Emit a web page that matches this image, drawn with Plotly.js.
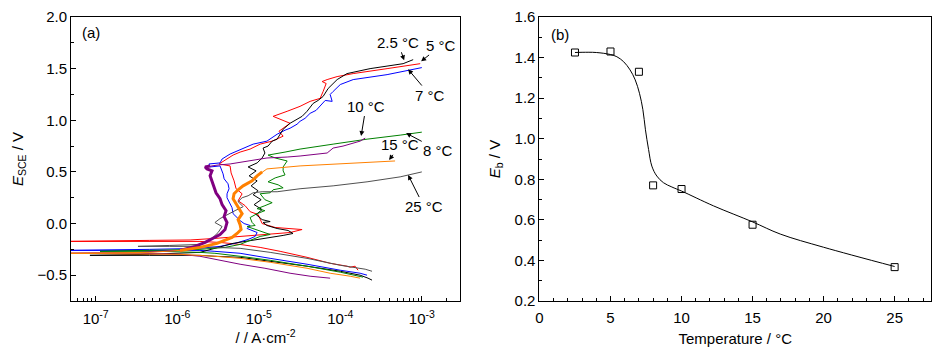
<!DOCTYPE html>
<html>
<head>
<meta charset="utf-8">
<script src="https://cdn.plot.ly/plotly-3.0.1.min.js"></script>
<style>html,body{margin:0;padding:0;background:#fff;}#chart{width:945px;height:360px;}</style>
</head>
<body>
<div id="chart"></div>
<script>
// ---------- Panel (a): polarization curves (current density A/cm^2, potential V vs SCE) ----------
const i_2p5C = [2.45e-4,2.19e-4,1.75e-4,1.0e-4,3.91e-5,1.38e-5,5.9e-6,2.9e-6,1.9e-6,4.6e-7,8.5e-8,
  4.6e-7,1.9e-6,4.84e-6,1.26e-5,1.99e-5,2.63e-5,2.29e-5,1.68e-5,1.26e-5,1.13e-5,1.38e-5,1.1e-5,9.28e-6,1.1e-5,8.77e-6,1.07e-5,8.53e-6,9.82e-6,8.06e-6,9.55e-6,7.62e-6,9.28e-6,7.4e-6,9.55e-6,1.1e-5,1.19e-5,1.13e-5,1.3e-5,1.46e-5,1.68e-5,1.99e-5,2.42e-5,2.95e-5,3.4e-5,3.91e-5,4.64e-5,5.34e-5,6.16e-5,7.1e-5,7.51e-5,9.15e-5,1.21e-4,2.32e-4,5.9e-4,7.83e-4];
const E_2p5C = [-0.548,-0.529,-0.5,-0.462,-0.413,-0.365,-0.327,-0.317,-0.308,-0.308,-0.308,
  -0.298,-0.279,-0.192,-0.144,-0.115,-0.096,-0.067,-0.048,-0.019,0.01,0.019,0.038,0.087,0.135,0.183,0.231,0.279,0.317,0.365,0.413,0.462,0.51,0.548,0.587,0.635,0.683,0.731,0.75,0.798,0.817,0.913,0.971,1.01,1.038,1.087,1.163,1.192,1.231,1.308,1.327,1.394,1.452,1.5,1.548,1.587];

const i_5C = [1.65e-4,1.52e-4,1.32e-4,1.21e-4,7.51e-5,3.91e-5,1.83e-5,1.04e-5,5.9e-6,3.35e-6,1.9e-6,6.1e-7,2.0e-7,4e-8,
  4.6e-7,1.44e-6,2.9e-6,5.9e-6,1.38e-5,2.42e-5,3.4e-5,2.42e-5,1.59e-5,1.1e-5,9.82e-6,7.83e-6,6.8e-6,5.58e-6,6.25e-6,5.27e-6,4.98e-6,4.58e-6,4.45e-6,3.26e-6,4.84e-6,5.9e-6,7.83e-6,1.04e-5,1.46e-5,1.99e-5,1.77e-5,2.42e-5,1.83e-5,1.5e-5,2.23e-5,3.21e-5,4.26e-5,5.66e-5,6.16e-5,6.71e-5,5.99e-5,6.9e-5,9.15e-5,1.44e-4,3.75e-4,9.55e-4];
const E_5C = [-0.452,-0.413,-0.423,-0.413,-0.385,-0.327,-0.269,-0.231,-0.202,-0.183,-0.173,-0.173,-0.173,-0.173,
  -0.163,-0.159,-0.144,-0.125,-0.106,-0.087,-0.058,-0.048,-0.038,0.0,0.087,0.115,0.173,0.221,0.288,0.337,0.413,0.49,0.558,0.577,0.663,0.692,0.721,0.769,0.798,0.846,0.894,0.971,1.01,1.038,1.087,1.135,1.183,1.212,1.279,1.356,1.375,1.394,1.423,1.452,1.5,1.548];

const i_7C = [2.13e-4,1.75e-4,1.0e-4,3.91e-5,1.38e-5,5.9e-6,2.9e-6,1.9e-6,4.6e-7,4e-8,
  4.6e-7,1.9e-6,3.35e-6,5.12e-6,7.4e-6,9.02e-6,9.55e-6,7.2e-6,7.83e-6,6.61e-6,5.9e-6,5.27e-6,4.84e-6,4.7e-6,4.45e-6,4.08e-6,4.08e-6,4.32e-6,4.2e-6,3.76e-6,3.65e-6,3.45e-6,3.35e-6,2.53e-6,2.45e-6,3.35e-6,3.55e-6,4.45e-6,5.42e-6,8.53e-6,1.26e-5,1.68e-5,2.1e-5,2.42e-5,2.95e-5,3.21e-5,3.7e-5,4.26e-5,5.05e-5,5.66e-5,6.53e-5,7.95e-5,7.51e-5,8.17e-5,1.0e-4,1.44e-4,3.75e-4,1.0e-3];
const E_7C = [-0.5,-0.481,-0.452,-0.394,-0.337,-0.288,-0.269,-0.26,-0.26,-0.26,
  -0.25,-0.24,-0.221,-0.192,-0.154,-0.125,-0.087,-0.048,-0.019,0.0,0.029,0.067,0.096,0.154,0.192,0.25,0.288,0.337,0.385,0.433,0.481,0.529,0.558,0.548,0.577,0.587,0.625,0.673,0.702,0.769,0.798,0.865,0.904,0.923,0.962,0.99,1.019,1.067,1.096,1.135,1.192,1.183,1.25,1.279,1.346,1.394,1.442,1.51];

const i_8C = [1.9e-4,1.52e-4,1.0e-4,3.91e-5,1.38e-5,5.9e-6,2.9e-6,1.9e-6,6.1e-7,1.13e-7,
  6.1e-7,1.9e-6,3.86e-6,5.9e-6,7.83e-6,1.04e-5,1.38e-5,1.1e-5,9.02e-6,7.2e-6,9.02e-6,8.29e-6,7.83e-6,9.55e-6,1.19e-5,9.55e-6,1.19e-5,1.46e-5,1.19e-5,1.1e-5,1.04e-5,1.38e-5,1.5e-5,1.99e-5,1.73e-5,1.3e-5,1.59e-5,2.1e-5,1.99e-5,1.99e-5,2.23e-5,1.59e-5,1.3e-5,2.1e-5,3.21e-5,8.17e-5,2.13e-4,5.42e-4,1.0e-3];
const E_8C = [-0.519,-0.5,-0.471,-0.413,-0.356,-0.317,-0.288,-0.279,-0.269,-0.269,
  -0.26,-0.25,-0.231,-0.202,-0.163,-0.125,-0.106,-0.077,-0.058,-0.029,-0.019,0.01,0.058,0.096,0.125,0.144,0.173,0.202,0.231,0.26,0.288,0.298,0.327,0.346,0.375,0.404,0.442,0.471,0.51,0.548,0.606,0.635,0.663,0.692,0.721,0.769,0.817,0.856,0.885];

const i_10C = [7.51e-5,4.26e-5,2.42e-5,1.19e-5,5.9e-6,2.9e-6,1.9e-6,1.08e-6,3.5e-7,4e-8,
  3.5e-7,1.08e-6,1.65e-6,2.2e-6,2.75e-6,3.35e-6,3.86e-6,4.08e-6,3.76e-6,3.97e-6,3.55e-6,3.35e-6,2.99e-6,2.83e-6,2.67e-6,2.53e-6,2.67e-6,2.32e-6,2.2e-6,2.53e-6,3.17e-6,4.45e-6,7.2e-6,1.26e-5,2.23e-5,3.21e-5,6.9e-5,8.17e-5,1.08e-4,1.32e-4,1.75e-4,2.02e-4];
const E_10C = [-0.529,-0.51,-0.481,-0.433,-0.394,-0.346,-0.317,-0.298,-0.288,-0.288,
  -0.279,-0.26,-0.221,-0.183,-0.144,-0.106,-0.058,0.01,0.067,0.125,0.183,0.24,0.298,0.356,0.413,0.462,0.51,0.529,0.548,0.558,0.567,0.577,0.606,0.635,0.644,0.654,0.683,0.731,0.75,0.769,0.798,0.827];

const i_15C = [1.75e-4,1.32e-4,7.51e-5,3.91e-5,1.38e-5,5.9e-6,2.9e-6,1.9e-6,1.08e-6,4e-8,
  4.6e-7,1.08e-6,1.9e-6,3.08e-6,3.86e-6,4.7e-6,5.42e-6,6.07e-6,5.9e-6,5.58e-6,6.25e-6,5.74e-6,5.27e-6,4.84e-6,4.98e-6,5.58e-6,6.43e-6,8.29e-6,9.55e-6,1.1e-5,1.26e-5,3.21e-5,1.0e-4,4.7e-4];
const E_15C = [-0.529,-0.51,-0.481,-0.433,-0.375,-0.337,-0.317,-0.308,-0.298,-0.288,
  -0.279,-0.26,-0.231,-0.192,-0.163,-0.135,-0.096,-0.058,-0.01,0.038,0.096,0.144,0.192,0.24,0.288,0.327,0.365,0.413,0.462,0.5,0.529,0.558,0.577,0.606];

const i_25C = [2.45e-4,2.02e-4,1.0e-4,3.91e-5,1.38e-5,5.9e-6,2.9e-6,1.9e-6,8.1e-7,3.3e-7,
  8.1e-7,1.9e-6,2.67e-6,3.17e-6,3.55e-6,2.9e-6,3.35e-6,4.08e-6,5.12e-6,6.43e-6,5.58e-6,6.25e-6,7.4e-6,8.53e-6,1.1e-5,1.68e-5,3.21e-5,8.17e-5,2.13e-4,5.42e-4,1.0e-3];
const E_25C = [-0.462,-0.442,-0.404,-0.337,-0.279,-0.24,-0.231,-0.221,-0.221,-0.221,
  -0.212,-0.202,-0.144,-0.087,-0.029,0.01,0.048,0.087,0.125,0.163,0.212,0.25,0.269,0.298,0.308,0.308,0.337,0.365,0.404,0.452,0.5];

const curveLabels = ['2.5 °C','5 °C','7 °C','8 °C','10 °C','15 °C','25 °C'];
const xTickVals = [1e-7,1e-6,1e-5,1e-4,1e-3];
const xTickText = ['10<sup>-7</sup>','10<sup>-6</sup>','10<sup>-5</sup>','10<sup>-4</sup>','10<sup>-3</sup>'];

// ---------- Panel (b): breakdown potential vs temperature ----------
const temperature = [2.5, 5, 7, 8, 10, 15, 25];
const Eb = [1.425, 1.43, 1.33, 0.77, 0.752, 0.576, 0.367];
const fitT = [2.5, 3, 4, 5, 5.45, 5.92, 6.38, 6.74, 7.04, 7.28, 7.46, 7.68, 7.91, 8.26, 8.73, 9.32, 10, 12.25, 15, 16.95, 20, 25];
const fitE = [1.425, 1.426, 1.425, 1.415, 1.404, 1.38, 1.339, 1.29, 1.224, 1.143, 1.044, 0.947, 0.865, 0.816, 0.783, 0.762, 0.742, 0.669, 0.59, 0.53, 0.465, 0.37];

// ---------- build ----------
const L = 71, R = 14.3, T = 16.5, B = 58.5;
const PW = 945 - L - R, PH = 360 - T - B;
const pxX = x => (x - L) / PW;
const pxY = y => (T + PH - y) / PH;

const FONT = '"Liberation Sans", Arial, Helvetica, sans-serif';
function tr(x, y, color, name, w) {
  return {type:'scatter', mode:'lines', x:x, y:y, name:name, xaxis:'x', yaxis:'y',
          line:{color:color, width:w||1}, hoverinfo:'skip'};
}
const bandPurple = tr(i_10C.slice(11, 30), E_10C.slice(11, 30), '#800080', '10 °C band', 3);
const bandOrange = tr(i_15C.slice(11, 30), E_15C.slice(11, 30), '#ff8000', '15 °C band', 3);
const traces = [
  tr(i_5C, E_5C, '#ff0000', curveLabels[1]),
  tr(i_7C, E_7C, '#0000ff', curveLabels[2]),
  tr(i_2p5C, E_2p5C, '#000000', curveLabels[0]),
  tr(i_8C, E_8C, '#008000', curveLabels[3]),
  tr(i_25C, E_25C, '#505050', curveLabels[6]),
  tr(i_10C, E_10C, '#800080', curveLabels[4]),
  bandPurple,
  tr(i_15C, E_15C, '#ff8000', curveLabels[5]),
  bandOrange,
  {type:'scatter', mode:'lines', x:fitT, y:fitE, xaxis:'x2', yaxis:'y2', line:{color:'#000', width:1, shape:'spline', smoothing:1}, name:'fit', hoverinfo:'skip'},
  {type:'scatter', mode:'markers', x:temperature, y:Eb, xaxis:'x2', yaxis:'y2', name:'Eb',
   marker:{symbol:'square-open', size:7, color:'#000', line:{width:1, color:'#000'}}, hoverinfo:'skip'}
];

// minor log ticks
const minorLog = [];
for (let d = -8; d <= -3; d++) for (let m = 2; m <= 9; m++) minorLog.push(m * Math.pow(10, d));

const axCommon = {showline:true, linecolor:'#000', linewidth:1, mirror:true, ticks:'inside',
  ticklen:5, tickwidth:1, tickcolor:'#000', showgrid:false, zeroline:false,
  tickfont:{family:FONT, size:15, color:'#000'}};

const textAnn = (txt, x, y) => ({text:txt, x:pxX(x), y:pxY(y), xref:'paper', yref:'paper',
  showarrow:false, xanchor:'center', yanchor:'middle', font:{family:FONT, size:15, color:'#000'}});
// label with an arrow: text centred at (tx,ty), arrow head at (hx,hy)
const arrowLabel = (txt, tx, ty, hx, hy) => ({text:txt, x:pxX(hx), y:pxY(hy), xref:'paper', yref:'paper',
  ax:tx - hx, ay:ty - hy, showarrow:true, arrowhead:2, arrowsize:1, arrowwidth:1, arrowcolor:'#000',
  standoff:0, startstandoff:1, borderpad:0, font:{family:FONT, size:15, color:'#000'}});

const annotations = [
  textAnn('(a)', 91, 32), textAnn('(b)', 560, 34),
  arrowLabel(curveLabels[0], 398, 42, 404, 60),
  arrowLabel(curveLabels[1], 441, 45, 421, 61),
  arrowLabel(curveLabels[2], 430, 95, 408, 69),
  arrowLabel(curveLabels[4], 366, 106, 361, 136),
  arrowLabel(curveLabels[3], 438, 150, 406, 133),
  arrowLabel(curveLabels[5], 400, 145, 389, 160),
  arrowLabel(curveLabels[6], 424, 207, 408, 175)
];

const layout = {
  width:945, height:360, margin:{l:L, r:R, t:T, b:B}, showlegend:false,
  paper_bgcolor:'#fff', plot_bgcolor:'#fff',
  font:{family:FONT, size:15, color:'#000'},
  xaxis:Object.assign({}, axCommon, {domain:[0, (460 - L) / PW], type:'log', range:[-7.303, -2.53],
    tickmode:'array', tickvals:xTickVals, ticktext:xTickText, ticklabelstandoff:4,
    minor:{tickmode:'array', tickvals:minorLog, ticks:'inside', ticklen:3, tickcolor:'#000', showgrid:false},
    title:{text:'/ / A·cm<sup>-2</sup>', font:{family:FONT, size:15, color:'#000'}, standoff:5}}),
  yaxis:Object.assign({}, axCommon, {domain:[0, 1], range:[-0.75, 2.0], tick0:0, dtick:0.5, tickformat:'.1f',
    minor:{dtick:0.25, ticks:'inside', ticklen:3, tickcolor:'#000', showgrid:false},
    title:{text:'<i>E</i><sub>SCE</sub> / V', font:{family:FONT, size:15, color:'#000'}, standoff:10}}),
  xaxis2:Object.assign({}, axCommon, {domain:[(539.3 - L) / PW, 1], range:[0, 27.56], tick0:0, dtick:5, anchor:'y2',
    ticklabelstandoff:3,
    minor:{dtick:1, ticks:'inside', ticklen:3, tickcolor:'#000', showgrid:false},
    title:{text:'Temperature / °C', font:{family:FONT, size:15, color:'#000'}, standoff:8}}),
  yaxis2:Object.assign({}, axCommon, {domain:[0, 1], range:[0.2, 1.6], tick0:0.2, dtick:0.2, tickformat:'.1f', anchor:'x2',
    minor:{dtick:0.1, ticks:'inside', ticklen:3, tickcolor:'#000', showgrid:false},
    title:{text:'<i>E</i><sub>b</sub> / V', font:{family:FONT, size:15, color:'#000'}, standoff:10}}),
  annotations:annotations
};

Plotly.newPlot('chart', traces, layout, {displayModeBar:false, staticPlot:true});
</script>
</body>
</html>
